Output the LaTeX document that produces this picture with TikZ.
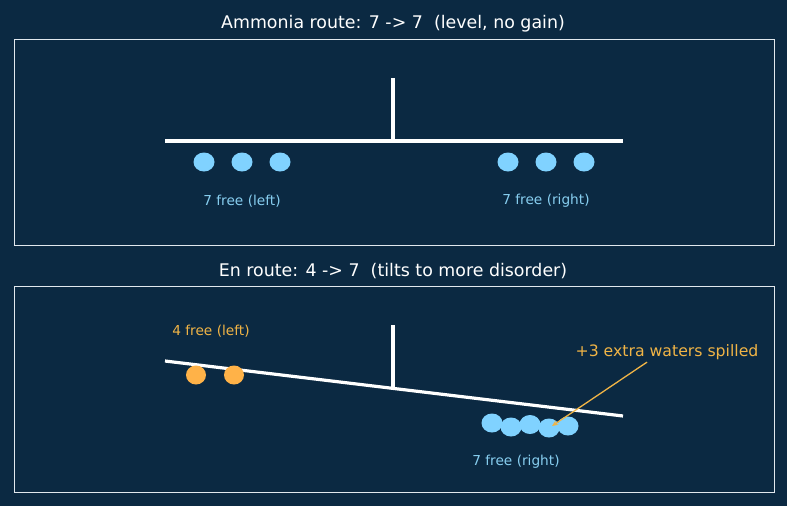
\documentclass[tikz,border=0pt]{standalone}
\usepackage{fontspec}
\setmainfont{DejaVu Sans}
\usetikzlibrary{shapes.geometric,arrows.meta}
\definecolor{bg}{RGB}{11,41,66}
\definecolor{wblue}{RGB}{128,210,255}
\definecolor{lblue}{RGB}{135,206,240}
\definecolor{worange}{RGB}{255,178,72}
\definecolor{lorange}{RGB}{240,180,70}
\definecolor{frame}{RGB}{225,232,238}
\begin{document}
\begin{tikzpicture}[x=1pt,y=-1pt,
  panel/.style={draw=frame,line width=0.8pt},
  ttl/.style={text=white,font=\fontsize{17.4}{19}\selectfont},
  lbl/.style={font=\fontsize{13.7}{15}\selectfont},
  beam/.style={white,line width=3.2pt},
  water/.style={ellipse,fill=wblue,minimum width=21pt,minimum height=19pt,inner sep=0pt},
  ion/.style={ellipse,fill=worange,minimum width=20pt,minimum height=19pt,inner sep=0pt}]
\fill[bg] (0,0) rectangle (787,506);
\useasboundingbox (0,0) rectangle (787,506);
% panel 1
\node[ttl] (t1) at (393,24) {Ammonia route: 7 -> 7~~(level, no gain)};
\draw[panel] (14,39) rectangle (774,245);
\coordinate (b1l) at (165,141);
\coordinate (b1r) at (623,141);
\coordinate (p1t) at (393,78);
\coordinate (p1b) at (393,141);
\draw[beam] (b1l) -- (b1r);
\draw[beam] (p1t) -- (p1b);
\node[water] (a1) at (204,162) {};
\node[water] (a2) at (242,162) {};
\node[water] (a3) at (280,162) {};
\node[water] (a4) at (508,162) {};
\node[water] (a5) at (546,162) {};
\node[water] (a6) at (584,162) {};
\node[lbl,text=lblue] (l1) at (242,201.5) {7 free (left)};
\node[lbl,text=lblue] (r1) at (546,200.5) {7 free (right)};
% panel 2
\node[ttl] (t2) at (393,271) {En route: 4 -> 7~~(tilts to more disorder)};
\draw[panel] (14,286) rectangle (774,492);
\coordinate (b2l) at (165,361);
\coordinate (b2r) at (623,416);
\coordinate (p2t) at (393,325);
\coordinate (p2b) at (393,388.5);
\draw[beam] (b2l) -- (b2r);
\draw[beam] (p2t) -- (p2b);
\node[ion] (o1) at (196,375) {};
\node[ion] (o2) at (234,375) {};
\node[water] (w1) at (492,423) {};
\node[water] (w2) at (511,427) {};
\node[water] (w3) at (530,424.5) {};
\node[water] (w4) at (549,428) {};
\node[water] (w5) at (568,426) {};
\node[lbl,text=lorange] (l2) at (211,331.5) {4 free (left)};
\node[lbl,text=lblue] (r2) at (516,461.5) {7 free (right)};
\node[text=lorange,font=\fontsize{15.7}{17}\selectfont] (ann) at (667,352) {+3 extra waters spilled};
\coordinate (sp) at (552,426);
\draw[lorange,line width=1.3pt,-{Stealth[length=6pt,width=5pt]}] ([xshift=-20pt,yshift=1pt]ann.south) -- (sp);
\end{tikzpicture}
\end{document}
